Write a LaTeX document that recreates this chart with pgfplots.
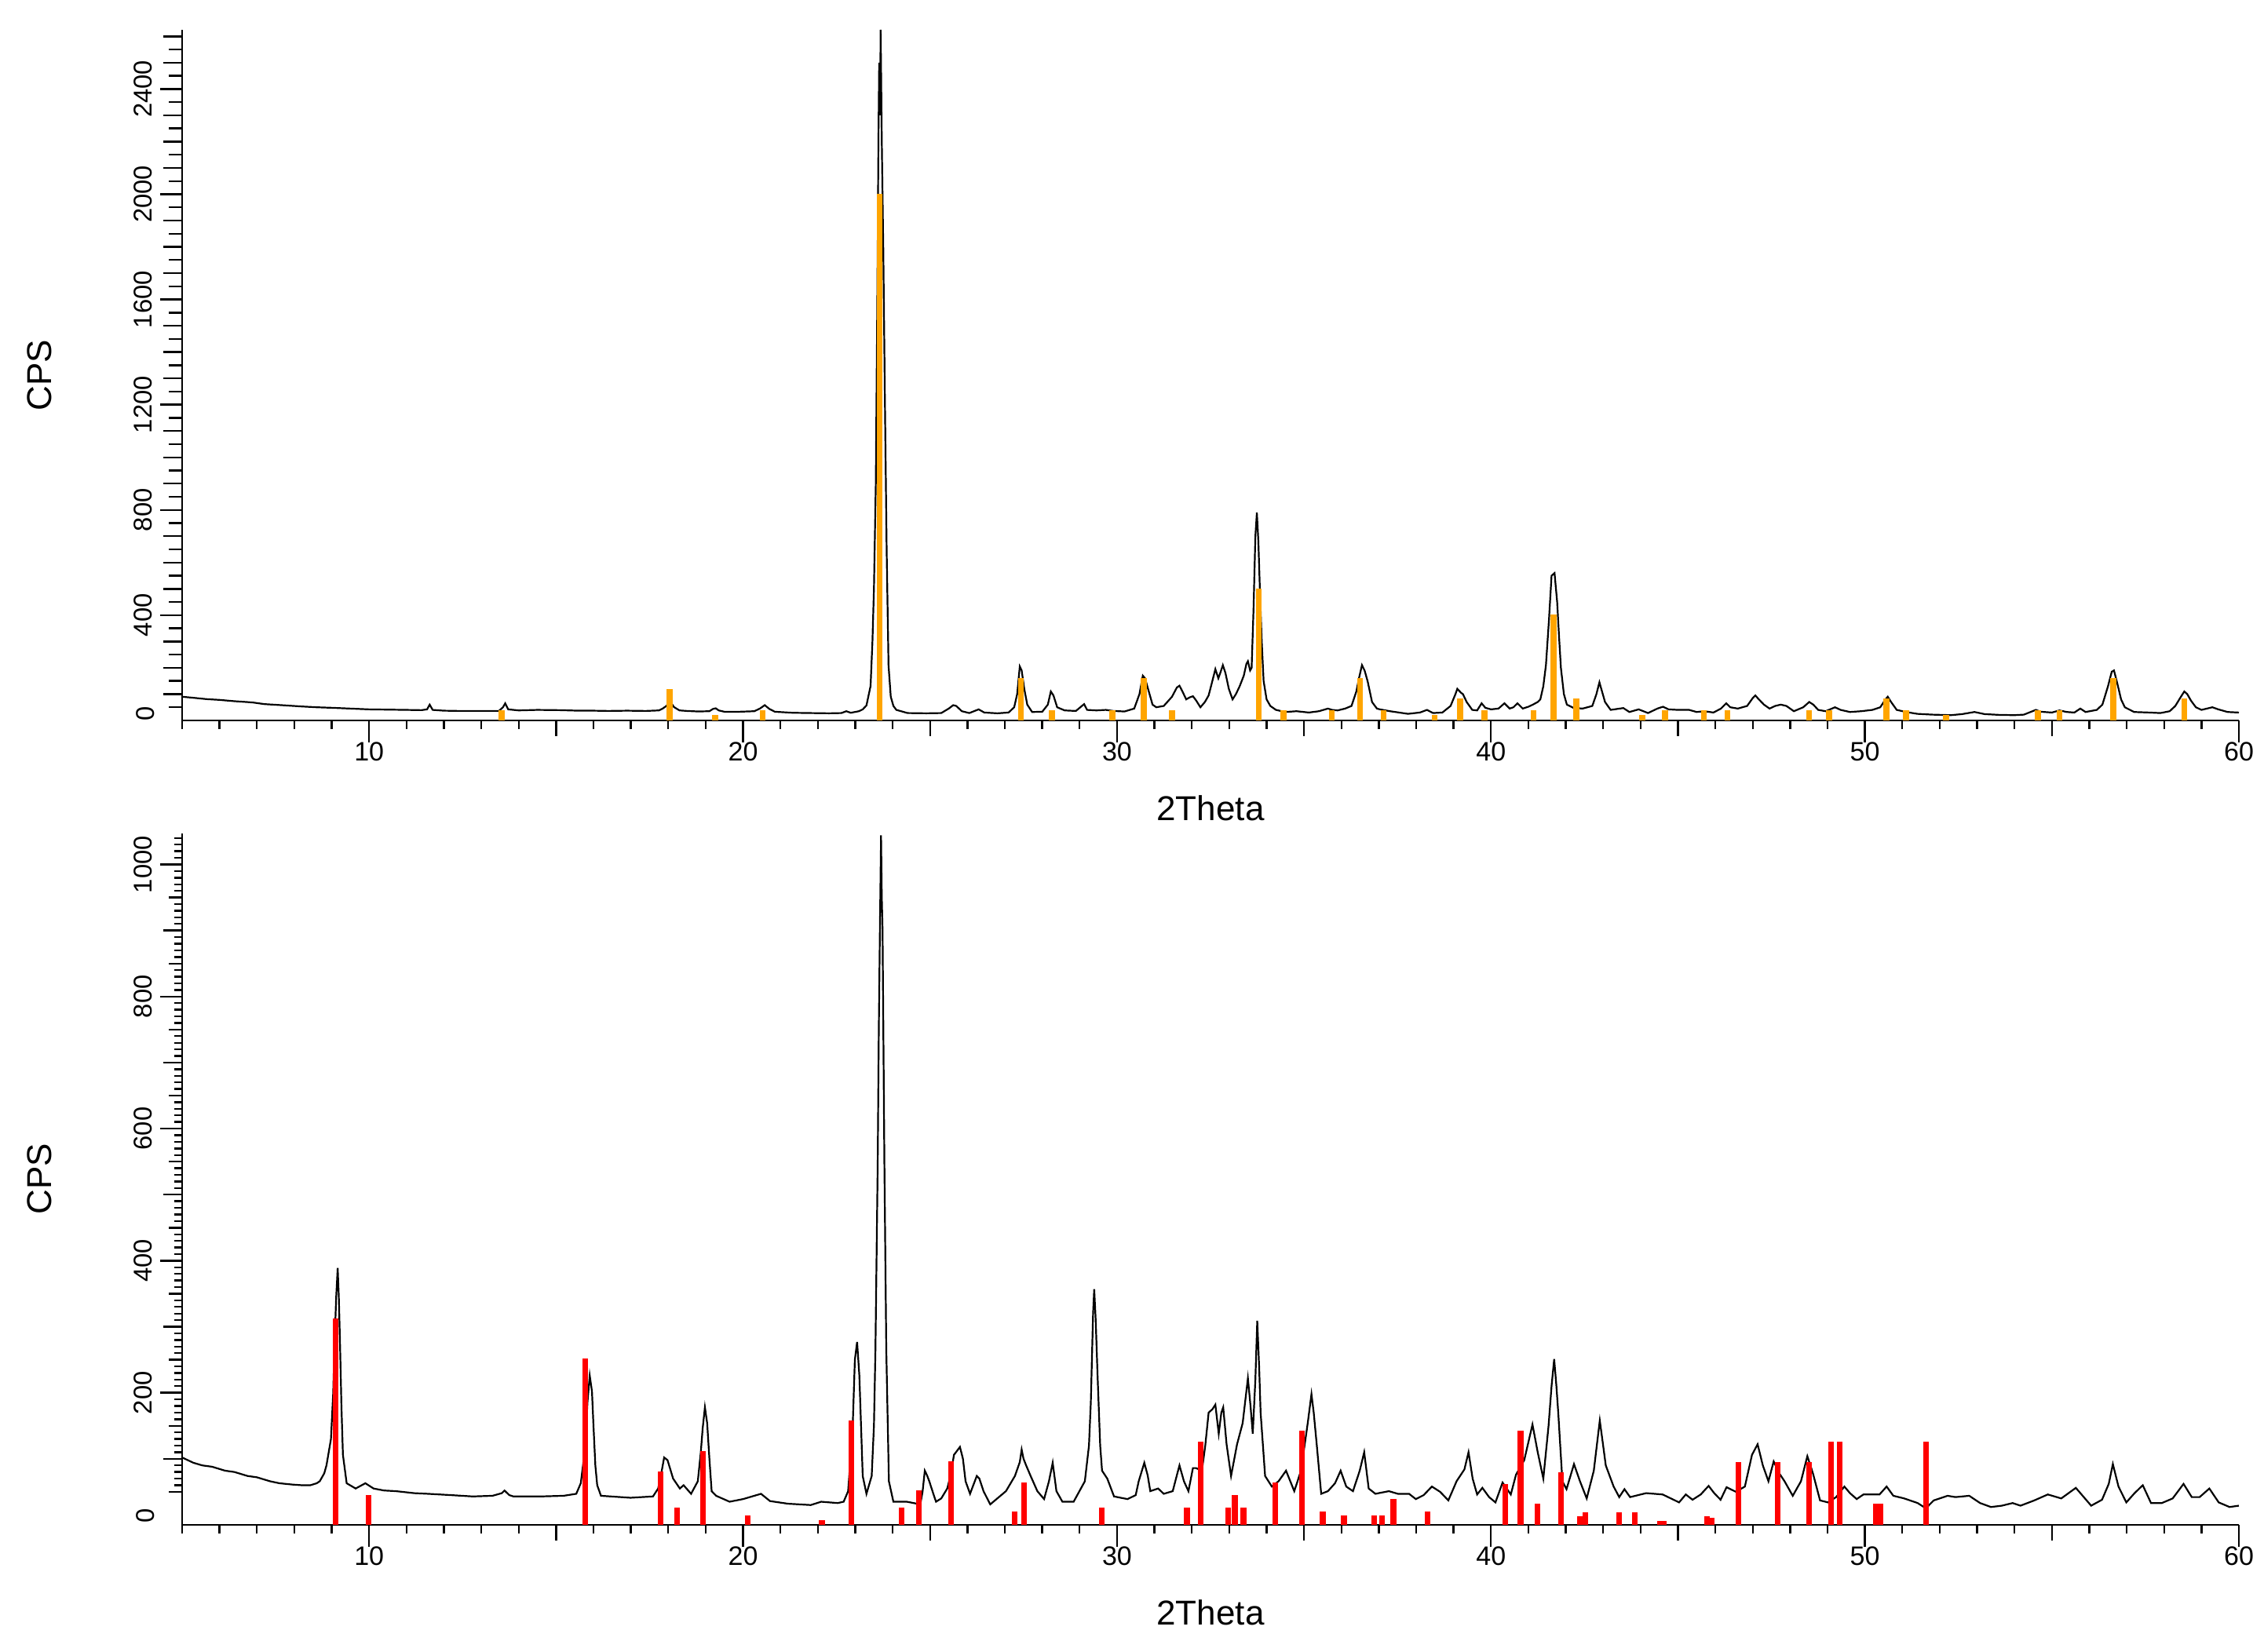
\documentclass[border=0pt]{standalone}
\usepackage{fontspec}
\setmainfont{Liberation Sans}
\usepackage{pgfplots}
\pgfplotsset{compat=1.18}
\definecolor{stickorange}{HTML}{FFA500}
\definecolor{stickred}{HTML}{FF0000}
\begin{document}
\begin{tikzpicture}
\useasboundingbox (0,0) rectangle (721pt,526.25pt);
\pgfplotsset{
  xrdax/.style={
    scale only axis, width=655pt,
    xmin=5, xmax=60, ymin=0,
    axis x line*=bottom, axis y line*=left,
    axis line style={line width=0.6pt, black, -},
    tick align=outside,
    every tick/.style={line width=0.6pt, black},
    major tick length=7pt, minor tick length=2.8pt,
    xtick={10,20,...,60},
    minor xtick={5,6,...,60},
    extra x ticks={15,25,35,45,55},
    extra x tick labels={},
    extra x tick style={/pgfplots/major tick length=4.9pt},
    /pgf/number format/assume math mode=true,
    /pgf/number format/1000 sep={},
    xticklabel style={font=\fontsize{8.5}{10}\selectfont, yshift=3.5pt},
    yticklabel style={font=\fontsize{8.2}{10}\selectfont, rotate=90, anchor=south, yshift=-1pt},
    xlabel={2Theta},
    xlabel style={at={(axis description cs:0.5,0)}, anchor=center, yshift=-28pt, font=\fontsize{11}{13}\selectfont},
    ylabel={CPS},
    ylabel style={at={(axis description cs:-0.0695,0.5)}, anchor=center, font=\fontsize{11}{13}\selectfont},
    clip=false,
  }
}
% ---------------- top panel ----------------
\begin{axis}[xrdax, at={(58pt,296.75pt)}, anchor=south west, height=220pt,
  ymax=2625,
  ytick={400,800,...,2400},
  minor ytick={50,100,...,2600},
  minor y tick style={/pgfplots/minor tick length=4.2pt},
  extra y ticks={100,200,300,500,600,700,900,1000,1100,1300,1400,1500,1700,1800,1900,2100,2200,2300,2500,2600},
  extra y tick labels={},
  extra y tick style={/pgfplots/major tick length=6pt},
]
\addplot[black, line width=0.55pt] coordinates {
(5.0,90) (5.3,86) (5.65,81) (6.0,78) (6.4,73) (6.72,70) (6.9,68) (7.2,62) (7.66,58) (8.2,53)
(8.6,50) (9.0,48) (9.5,45) (10.0,42) (10.5,41) (11.0,40) (11.4,39) (11.55,42) (11.62,60) (11.7,40)
(12.0,37) (12.4,36) (13.0,36) (13.47,36) (13.58,50) (13.64,65) (13.72,42) (14.0,38) (14.5,40) (15.1,39)
(15.6,37) (16.0,37) (16.4,36) (16.9,37) (17.4,36) (17.75,38) (17.85,45) (17.95,55) (18.04,70) (18.1,62)
(18.15,51) (18.3,38) (18.5,36) (18.8,34) (19.1,35) (19.2,44) (19.27,46) (19.35,38) (19.5,33) (19.9,33)
(20.3,35) (20.45,45) (20.58,58) (20.7,44) (20.85,33) (21.33,29) (21.8,28) (22.3,27) (22.63,28) (22.76,35)
(22.88,29) (23.1,35) (23.2,42) (23.3,57) (23.41,131) (23.46,300) (23.5,500) (23.55,900) (23.59,1600) (23.62,2200)
(23.64,2500) (23.66,2300) (23.68,2625) (23.71,2200) (23.75,1790) (23.79,1256) (23.84,647) (23.89,209) (23.95,90) (24.02,55)
(24.1,40) (24.4,28) (24.9,27) (25.3,28) (25.5,45) (25.62,58) (25.7,55) (25.85,35) (26.05,28) (26.3,42)
(26.45,30) (26.8,27) (27.1,30) (27.25,50) (27.33,100) (27.4,205) (27.45,190) (27.52,120) (27.6,60) (27.73,32)
(28.0,33) (28.15,60) (28.23,110) (28.3,95) (28.4,50) (28.6,38) (28.9,36) (29.12,62) (29.2,40) (29.45,38)
(29.7,40) (29.9,36) (30.2,34) (30.46,45) (30.6,100) (30.69,170) (30.75,160) (30.85,110) (30.95,60) (31.05,50)
(31.25,55) (31.47,90) (31.6,125) (31.67,132) (31.75,110) (31.85,80) (31.95,88) (32.03,92) (32.12,75) (32.23,50)
(32.35,70) (32.45,95) (32.55,150) (32.63,195) (32.71,160) (32.76,180) (32.83,210) (32.9,180) (32.99,120) (33.09,80)
(33.18,100) (33.28,130) (33.39,170) (33.46,215) (33.5,225) (33.56,190) (33.6,200) (33.65,420) (33.7,700) (33.74,790)
(33.78,680) (33.82,500) (33.87,300) (33.92,150) (34.0,80) (34.1,55) (34.25,40) (34.5,32) (34.8,35) (35.13,30)
(35.4,35) (35.64,45) (35.75,40) (35.9,38) (36.1,45) (36.27,55) (36.4,110) (36.47,160) (36.55,210) (36.62,190)
(36.7,150) (36.82,70) (36.95,45) (37.03,42) (37.3,35) (37.78,25) (38.1,30) (38.29,40) (38.45,28) (38.7,30)
(38.92,55) (39.05,100) (39.1,120) (39.2,105) (39.25,100) (39.35,70) (39.5,40) (39.63,38) (39.75,65) (39.85,48)
(40.0,42) (40.2,45) (40.36,65) (40.5,45) (40.6,50) (40.71,65) (40.85,45) (41.0,52) (41.12,60) (41.25,70)
(41.32,80) (41.4,130) (41.47,210) (41.55,380) (41.62,550) (41.7,560) (41.77,450) (41.82,320) (41.87,200) (41.95,100)
(42.03,60) (42.2,48) (42.45,45) (42.71,55) (42.82,100) (42.9,145) (42.97,110) (43.05,70) (43.2,40) (43.54,47)
(43.7,32) (43.95,42) (44.2,28) (44.45,45) (44.6,52) (44.75,42) (45.0,40) (45.3,40) (45.5,32) (45.7,35)
(45.95,30) (46.15,45) (46.29,65) (46.4,50) (46.6,45) (46.85,55) (47.0,85) (47.07,95) (47.15,82) (47.3,60)
(47.45,45) (47.6,55) (47.75,60) (47.9,55) (48.1,35) (48.35,50) (48.51,70) (48.62,60) (48.75,40) (48.95,35)
(49.2,50) (49.35,40) (49.6,32) (49.9,35) (50.2,40) (50.41,50) (50.55,80) (50.61,90) (50.7,70) (50.85,40)
(51.1,32) (51.4,25) (51.8,22) (52.3,20) (52.6,24) (52.93,32) (53.2,24) (53.6,21) (54.0,20) (54.25,22)
(54.57,40) (54.7,33) (55.0,30) (55.2,38) (55.4,32) (55.6,30) (55.76,45) (55.9,32) (56.2,40) (56.35,60)
(56.5,130) (56.6,185) (56.66,190) (56.75,140) (56.85,80) (56.95,50) (57.2,32) (57.6,30) (57.9,28) (58.15,35)
(58.3,55) (58.45,90) (58.54,110) (58.62,100) (58.72,75) (58.85,50) (59.0,40) (59.29,50) (59.45,42) (59.7,32)
(60.0,30)
};
\addplot[ycomb, stickorange, line width=1.9pt] coordinates {
(13.55,40) (18.04,120) (19.26,22) (20.52,40) (23.65,2000) (27.43,160) (28.26,38) (29.88,38) (30.71,160) (31.47,38)
(33.79,500) (34.45,38) (35.74,38) (36.5,160) (37.13,38) (38.49,22) (39.17,82) (39.83,38) (41.14,38) (41.67,402)
(42.28,82) (44.05,22) (44.65,38) (45.69,38) (46.32,38) (48.51,38) (49.04,38) (50.58,82) (51.1,38) (52.17,22)
(54.62,38) (55.2,38) (56.64,160) (58.54,82)
};
\node[rotate=90, anchor=south, font=\fontsize{8.2}{10}\selectfont, inner sep=0pt] at ([xshift=-8.5pt]axis cs:5,26) {0};
\end{axis}
% ---------------- bottom panel ----------------
\begin{axis}[xrdax, at={(58pt,40.5pt)}, anchor=south west, height=220.25pt,
  ymax=1047,
  ytick={200,400,...,1000},
  minor ytick={50,60,...,1040},
  minor y tick style={/pgfplots/minor tick length=2.5pt},
  extra y ticks={100,300,500,700,900},
  extra y tick labels={},
  extra y tick style={/pgfplots/major tick length=6pt},
]
\addplot[black, line width=0.55pt] coordinates {
(5.0,102) (5.15,98) (5.3,94) (5.54,90) (5.8,88) (6.15,82) (6.4,80) (6.75,74) (7.0,72) (7.35,66)
(7.6,63) (7.95,61) (8.2,60) (8.43,60) (8.6,63) (8.68,66) (8.8,78) (8.86,90) (8.98,130) (9.04,200)
(9.07,265) (9.12,345) (9.16,389) (9.19,345) (9.22,280) (9.26,180) (9.3,106) (9.4,63) (9.64,55) (9.9,63)
(10.12,55) (10.4,52) (10.72,51) (11.2,48) (11.57,47) (12.2,45) (12.77,43) (13.3,44) (13.55,48) (13.62,52)
(13.75,45) (13.86,43) (14.58,43) (15.2,44) (15.54,47) (15.66,63) (15.72,90) (15.78,122) (15.84,186) (15.9,226)
(15.96,202) (16.0,150) (16.05,90) (16.1,60) (16.2,44) (16.99,41) (17.59,43) (17.73,55) (17.82,80) (17.89,102)
(17.98,98) (18.13,70) (18.31,55) (18.41,60) (18.61,47) (18.79,66) (18.87,110) (18.92,146) (18.98,178) (19.04,154)
(19.1,100) (19.16,51) (19.28,44) (19.64,35) (20.0,39) (20.48,47) (20.72,36) (21.2,32) (21.81,30) (22.09,35)
(22.53,33) (22.69,35) (22.81,51) (22.93,146) (22.99,250) (23.05,277) (23.11,226) (23.2,74) (23.3,47) (23.44,74)
(23.5,150) (23.54,265) (23.6,544) (23.63,750) (23.66,902) (23.69,1044) (23.71,950) (23.73,902) (23.78,544) (23.83,265)
(23.9,66) (24.02,35) (24.38,35) (24.74,31) (24.8,50) (24.86,82) (24.92,75) (24.98,66) (25.1,45) (25.16,35)
(25.3,40) (25.46,55) (25.55,75) (25.64,106) (25.8,118) (25.88,100) (25.95,66) (26.07,47) (26.25,74) (26.32,70)
(26.43,51) (26.61,31) (27.03,51) (27.27,74) (27.4,95) (27.45,114) (27.5,100) (27.57,90) (27.69,74) (27.87,51)
(28.05,39) (28.18,66) (28.28,94) (28.38,51) (28.54,35) (28.84,35) (29.14,66) (29.25,120) (29.3,186) (29.36,320)
(29.39,357) (29.43,310) (29.48,226) (29.55,120) (29.6,82) (29.74,70) (29.92,43) (30.28,39) (30.5,45) (30.58,66)
(30.73,94) (30.82,75) (30.89,51) (31.1,55) (31.25,47) (31.49,51) (31.6,75) (31.67,90) (31.79,66) (31.91,51)
(32.03,86) (32.11,86) (32.27,82) (32.36,120) (32.45,170) (32.55,175) (32.63,182) (32.72,138) (32.79,170) (32.84,178)
(32.93,122) (33.05,74) (33.21,122) (33.36,154) (33.5,222) (33.57,180) (33.63,138) (33.7,220) (33.75,309) (33.8,240)
(33.84,170) (33.96,74) (34.14,58) (34.32,66) (34.52,82) (34.74,51) (34.92,82) (35.1,154) (35.2,198) (35.26,170)
(35.34,122) (35.46,47) (35.64,51) (35.83,63) (35.98,82) (36.13,58) (36.31,51) (36.49,82) (36.61,110) (36.73,55)
(36.91,47) (37.27,51) (37.51,47) (37.81,47) (37.99,39) (38.2,45) (38.42,58) (38.64,50) (38.86,37) (39.08,66)
(39.29,84) (39.4,110) (39.51,70) (39.63,46) (39.77,56) (39.95,42) (40.12,34) (40.31,64) (40.53,46) (40.67,76)
(40.89,98) (41.11,152) (41.25,110) (41.4,70) (41.54,150) (41.62,210) (41.69,251) (41.75,210) (41.8,169) (41.91,66)
(42.02,54) (42.22,92) (42.38,66) (42.56,40) (42.75,82) (42.91,158) (43.0,120) (43.07,90) (43.28,58) (43.43,42)
(43.57,54) (43.72,42) (44.15,48) (44.59,46) (44.81,40) (45.03,34) (45.21,46) (45.39,38) (45.61,46) (45.82,59)
(45.97,48) (46.14,38) (46.3,57) (46.55,50) (46.79,58) (46.98,106) (47.13,122) (47.27,90) (47.42,66) (47.56,96)
(47.71,78) (47.85,66) (48.07,44) (48.29,66) (48.46,104) (48.61,78) (48.8,37) (49.01,34) (49.23,42) (49.45,58)
(49.6,48) (49.78,39) (49.96,46) (50.39,46) (50.58,58) (50.76,44) (51.05,40) (51.41,33) (51.63,25) (51.84,37)
(52.21,44) (52.42,42) (52.79,44) (53.08,33) (53.37,27) (53.66,29) (53.95,33) (54.16,29) (54.53,37) (54.89,46)
(55.25,40) (55.64,56) (56.05,29) (56.34,38) (56.52,62) (56.63,92) (56.78,58) (56.99,34) (57.21,48) (57.43,60)
(57.65,33) (57.94,33) (58.23,40) (58.52,62) (58.74,42) (58.95,42) (59.21,55) (59.46,34) (59.75,27) (60.0,29)
};
\addplot[ycomb, stickred, line width=1.8pt] coordinates {
(9.1,313) (9.98,45) (15.78,252) (17.8,81) (18.23,26) (18.92,112) (20.12,14) (22.11,7) (22.89,158) (24.24,26)
(24.7,52) (25.56,96) (27.27,20) (27.51,64) (29.6,26) (31.87,26) (32.23,126) (32.97,26) (33.15,45) (33.38,26)
(34.24,64) (34.95,142) (35.5,20) (36.07,14) (36.87,14) (37.09,14) (37.39,39) (38.3,20) (40.38,62) (40.79,142)
(41.25,32) (41.88,79) (42.38,13) (42.52,19) (43.43,19) (43.85,19) (44.52,6) (44.62,6) (45.78,13) (45.9,11)
(46.62,95) (47.67,95) (48.51,95) (49.09,126) (49.33,126) (50.29,32) (50.42,32) (51.63,126)
};
\node[rotate=90, anchor=south, font=\fontsize{8.2}{10}\selectfont, inner sep=0pt] at ([xshift=-8.5pt]axis cs:5,14) {0};
\end{axis}
% overlay for the 50-step ticks of the bottom panel
\begin{axis}[at={(58pt,40.5pt)}, anchor=south west, scale only axis, width=655pt, height=220.25pt,
  xmin=5, xmax=60, ymin=0, ymax=1047,
  hide x axis, axis y line*=left,
  axis line style={line width=0.6pt, black, -},
  tick align=outside, every tick/.style={line width=0.6pt, black},
  major tick length=4.2pt,
  ytick={50,150,...,950}, yticklabels={},
]
\end{axis}
\end{tikzpicture}
\end{document}
